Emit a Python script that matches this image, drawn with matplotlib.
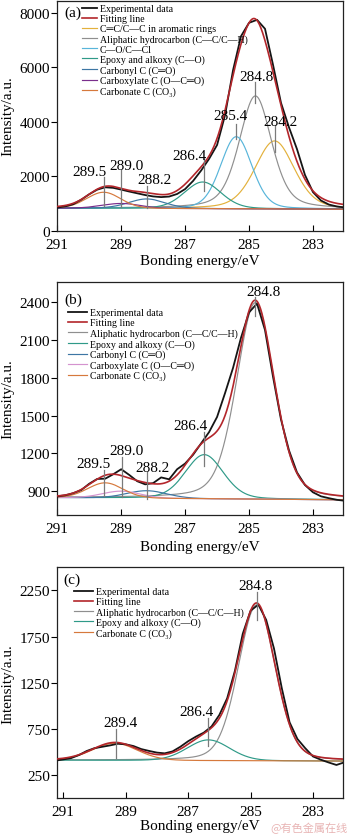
import numpy as np
import matplotlib
matplotlib.use("Agg")
import matplotlib.pyplot as plt

plt.rcParams['font.family'] = ['Liberation Serif', 'DejaVu Serif', 'DejaVu Sans']
plt.rcParams['mathtext.fontset'] = 'stix'

# ---------------- data ----------------
# component names
N_ARO = "C\u2550C/C\u2014C in aromatic rings"
N_ALI = "Aliphatic hydrocarbon (C\u2014C/C\u2014H)"
N_COC = "C\u2014O/C\u2014Cl"
N_EPO = "Epoxy and alkoxy (C\u2014O)"
N_CBY = "Carbonyl C (C\u2550O)"
N_CBX = "Carboxylate C (O\u2014C\u2550O)"
N_CO3 = "Carbonate C (CO\u2083)"

# Panel (a)
a_energy = [291.0, 290.75, 290.5, 290.25, 290.0, 289.75, 289.5, 289.25, 289.0, 288.75,
            288.5, 288.25, 288.0, 287.75, 287.5, 287.25, 287.0, 286.75, 286.5, 286.25,
            286.0, 285.75, 285.5, 285.25, 285.0, 284.75, 284.5, 284.25, 284.0, 283.75,
            283.5, 283.25, 283.0, 282.75, 282.5, 282.25, 282.05]
a_exp = [850, 895, 975, 1140, 1340, 1510, 1595, 1575, 1510, 1440,
         1375, 1310, 1260, 1235, 1255, 1350, 1530, 1830, 2210, 2640,
         3150, 4250, 5900, 7150, 7640, 7750, 7420, 6100, 4700, 3800,
         3000, 2050, 1420, 1110, 960, 890, 860]
a_base_e = [282.05, 291.0]
a_base_v = [790, 830]
a_names = [N_ARO, N_ALI, N_COC, N_EPO, N_CBY, N_CBX, N_CO3]
a_centers = [284.2, 284.8, 285.4, 286.45, 288.2, 289.0, 289.55]
a_heights = [2500, 4150, 2650, 980, 350, 180, 590]
a_fwhm = [1.45, 1.2, 1.15, 1.35, 1.35, 1.4, 1.25]
a_lmix = [0.3, 0.4, 0.2, 0.2, 0.2, 0.1, 0.1]
a_peak_labels = ["289.5", "289.0", "288.2", "286.4", "285.4", "284.8", "284.2"]

# Panel (b)
b_energy = [291.0, 290.75, 290.5, 290.25, 290.0, 289.75, 289.5, 289.25, 289.0, 288.75,
            288.5, 288.25, 288.0, 287.75, 287.5, 287.25, 287.0, 286.75, 286.5, 286.25,
            286.0, 285.75, 285.5, 285.25, 285.0, 284.75, 284.5, 284.25, 284.0, 283.75,
            283.5, 283.25, 283.0, 282.75, 282.5, 282.25, 282.05]
b_exp = [860, 868, 885, 910, 960, 998, 1000, 1035, 1075, 1030,
         980, 955, 965, 1010, 995, 1075, 1120, 1190, 1280, 1370,
         1490, 1680, 1880, 2120, 2320, 2390, 2180, 1810, 1470, 1225,
         1050, 950, 892, 860, 845, 832, 826]
b_base_e = [282.05, 291.0]
b_base_v = [832, 850]
b_names = [N_ALI, N_EPO, N_CBY, N_CBX, N_CO3]
b_centers = [284.8, 286.4, 288.2, 289.0, 289.5]
b_heights = [1560, 350, 60, 55, 120]
b_fwhm = [1.4, 1.4, 1.5, 1.4, 1.3]
b_lmix = [0.3, 0.2, 0.1, 0.1, 0.1]
b_peak_labels = ["289.5", "289.0", "288.2", "286.4", "284.8"]

# Panel (c)
c_energy = [291.15, 291.0, 290.75, 290.5, 290.25, 290.0, 289.75, 289.5, 289.25, 289.0,
            288.75, 288.5, 288.25, 288.0, 287.75, 287.5, 287.25, 287.0, 286.75, 286.5,
            286.25, 286.0, 285.75, 285.5, 285.25, 285.0, 284.75, 284.5, 284.25, 284.0,
            283.75, 283.5, 283.25, 283.0, 282.75, 282.5, 282.25, 282.02]
c_exp = [410, 418, 432, 465, 509, 540, 555, 570, 588, 582,
         563, 530, 510, 492, 484, 505, 555, 615, 665, 708,
         775, 900, 1080, 1380, 1780, 2030, 2095, 1930, 1620, 1190,
         820, 640, 540, 450, 415, 385, 358, 384]
c_base_e = [282.02, 291.2]
c_base_v = [400, 410]
c_names = [N_ALI, N_EPO, N_CO3]
c_centers = [284.8, 286.35, 289.35]
c_heights = [1690, 225, 185]
c_fwhm = [1.4, 1.6, 1.7]
c_lmix = [0.2, 0.1, 0.1]
c_peak_labels = ["289.4", "286.4", "284.8"]

# ---------------- styles / layout ----------------
COLORS = {N_ARO: '#e3b13c', N_ALI: '#8f8f8f', N_COC: '#58b5da', N_EPO: '#2f9a88',
          N_CBY: '#3d76a4', N_CBX: '#7a2e8c', N_CO3: '#d6793c'}
W, H = 350, 837


def pv(x, c, h, w, eta):
    r = (x - c) / w
    return h * ((1 - eta) * np.exp(-4 * np.log(2) * r ** 2) + eta / (1 + 4 * r ** 2))


def panel(rect_px, xlim, ylim, yticks, energy, exp, base_e, base_v, names, centers,
          heights, fwhm, lmix, tag, tag_xy, leg_xy, ann, ann_txt, xlab_off,
          cbx_color=None):
    l, t, r, b = rect_px
    ax = fig.add_axes([l / W, 1 - b / H, (r - l) / W, (b - t) / H])
    x = np.linspace(xlim[1], xlim[0], 700)
    base = np.interp(x, base_e, base_v)
    total = base.copy()
    comp_lines = []
    for n, c, h, w, e in zip(names, centers, heights, fwhm, lmix):
        y = pv(x, c, h, w, e)
        total += y
        col = COLORS[n]
        if n == N_CBX and cbx_color:
            col = cbx_color
        ln, = ax.plot(x, base + y, color=col, lw=0.85, zorder=2)
        comp_lines.append((ln, n))
    le, = ax.plot(energy, exp, color='#151515', lw=1.3, zorder=3)
    lf, = ax.plot(x, total, color='#b3262b', lw=1.2, zorder=4)
    # peak annotations
    for (lx, y0, y1), (s, tx, ty) in zip(ann, ann_txt):
        ax.plot([lx, lx], [y0, y1], color='#7a7a7a', lw=0.9, zorder=5)
        ax.text(tx, ty, s, ha='center', va='center', fontsize=11, zorder=6)
    ax.set_xlim(*xlim)
    ax.set_ylim(*ylim)
    ax.set_xticks([291, 289, 287, 285, 283])
    ax.set_yticks(yticks)
    ax.tick_params(axis='x', direction='in', length=4, width=0.8, labelsize=11, pad=5)
    ax.tick_params(axis='y', direction='out', length=4, width=0.8, labelsize=11, pad=1.2)
    for s in ax.spines.values():
        s.set_linewidth(0.9)
        s.set_color('#222222')
    hgt = b - t
    ax.set_xlabel("Bonding energy/eV", fontsize=11, va='center')
    ax.xaxis.set_label_coords(0.5, -xlab_off / hgt)
    ax.set_ylabel("Intensity/a.u.", fontsize=11, va='center')
    ax.yaxis.set_label_coords((8 - l) / (r - l), 0.5)
    fig.text(tag_xy[0] / W, 1 - tag_xy[1] / H, tag, fontsize=11, ha='center', va='center')
    handles = [le, lf] + [c[0] for c in comp_lines]
    labels = ["Experimental data", "Fitting line"] + [c[1] for c in comp_lines]
    ax.legend(handles, labels, loc='upper left',
              bbox_to_anchor=(leg_xy[0] / W, 1 - leg_xy[1] / H),
              bbox_transform=fig.transFigure, frameon=False, fontsize=7.1,
              handlelength=leg_xy[2], handletextpad=0.3, labelspacing=0.1,
              borderpad=0, borderaxespad=0)
    return ax


fig = plt.figure(figsize=(W / 100, H / 100), dpi=100)

# (a)
ann_a = [(289.53, 922, 1970), (289.0, 863, 2214), (288.2, 826, 1660), (286.42, 1476, 2646),
         (285.42, 3384, 3937), (284.8, 4675, 5475), (284.2, 2893, 3874)]
txt_a = [(a_peak_labels[0], 289.98, 2177), (a_peak_labels[1], 288.83, 2400),
         (a_peak_labels[2], 287.97, 1882), (a_peak_labels[3], 286.85, 2768),
         (a_peak_labels[4], 285.59, 4220), (a_peak_labels[5], 284.78, 5660),
         (a_peak_labels[6], 284.01, 4000)]
panel((57.3, 1.5, 343.3, 231.7), (291.0, 282.05), (0, 8460), [0, 2000, 4000, 6000, 8000],
      a_energy, a_exp, a_base_e, a_base_v, a_names, a_centers, a_heights, a_fwhm, a_lmix,
      "(a)", (73, 13), (82, 5.0, 1.5), ann_a, txt_a, 29.5)

# (b)
ann_b = [(289.53, 865, 1072), (288.98, 852, 1170), (288.2, 839, 1051), (286.42, 1103, 1368),
         (284.8, 2294, 2440)]
txt_b = [(b_peak_labels[0], 289.87, 1117), (b_peak_labels[1], 288.83, 1222),
         (b_peak_labels[2], 288.03, 1090), (b_peak_labels[3], 286.83, 1421),
         (b_peak_labels[4], 284.55, 2485)]
panel((57.3, 283.3, 343.3, 515.7), (291.0, 282.05), (714, 2559), [900, 1200, 1500, 1800, 2100, 2400],
      b_energy, b_exp, b_base_e, b_base_v, b_names, b_centers, b_heights, b_fwhm, b_lmix,
      "(b)", (73, 300), (68, 309.5, 1.9), ann_b, txt_b, 31.5, cbx_color='#d493cf')

# (c)
ann_c = [(289.32, 437, 749), (286.35, 562, 867), (284.8, 1924, 2229)]
txt_c = [(c_peak_labels[0], 289.18, 814), (c_peak_labels[1], 286.72, 939),
         (c_peak_labels[2], 284.85, 2300)]
panel((57.3, 568.3, 343.3, 799.0), (291.19, 282.03), (0, 2500), [250, 750, 1250, 1750, 2250],
      c_energy, c_exp, c_base_e, c_base_v, c_names, c_centers, c_heights, c_fwhm, c_lmix,
      "(c)", (72, 580), (74, 588, 1.9), ann_c, txt_c, 28)

fig.text(348 / W, 1 - 828 / H, "@有色金属在线", fontsize=8, color='#e8b4b4',
         ha='right', va='center', family=['Noto Sans CJK SC', 'DejaVu Sans'])

fig.savefig("out.png", dpi=100)
